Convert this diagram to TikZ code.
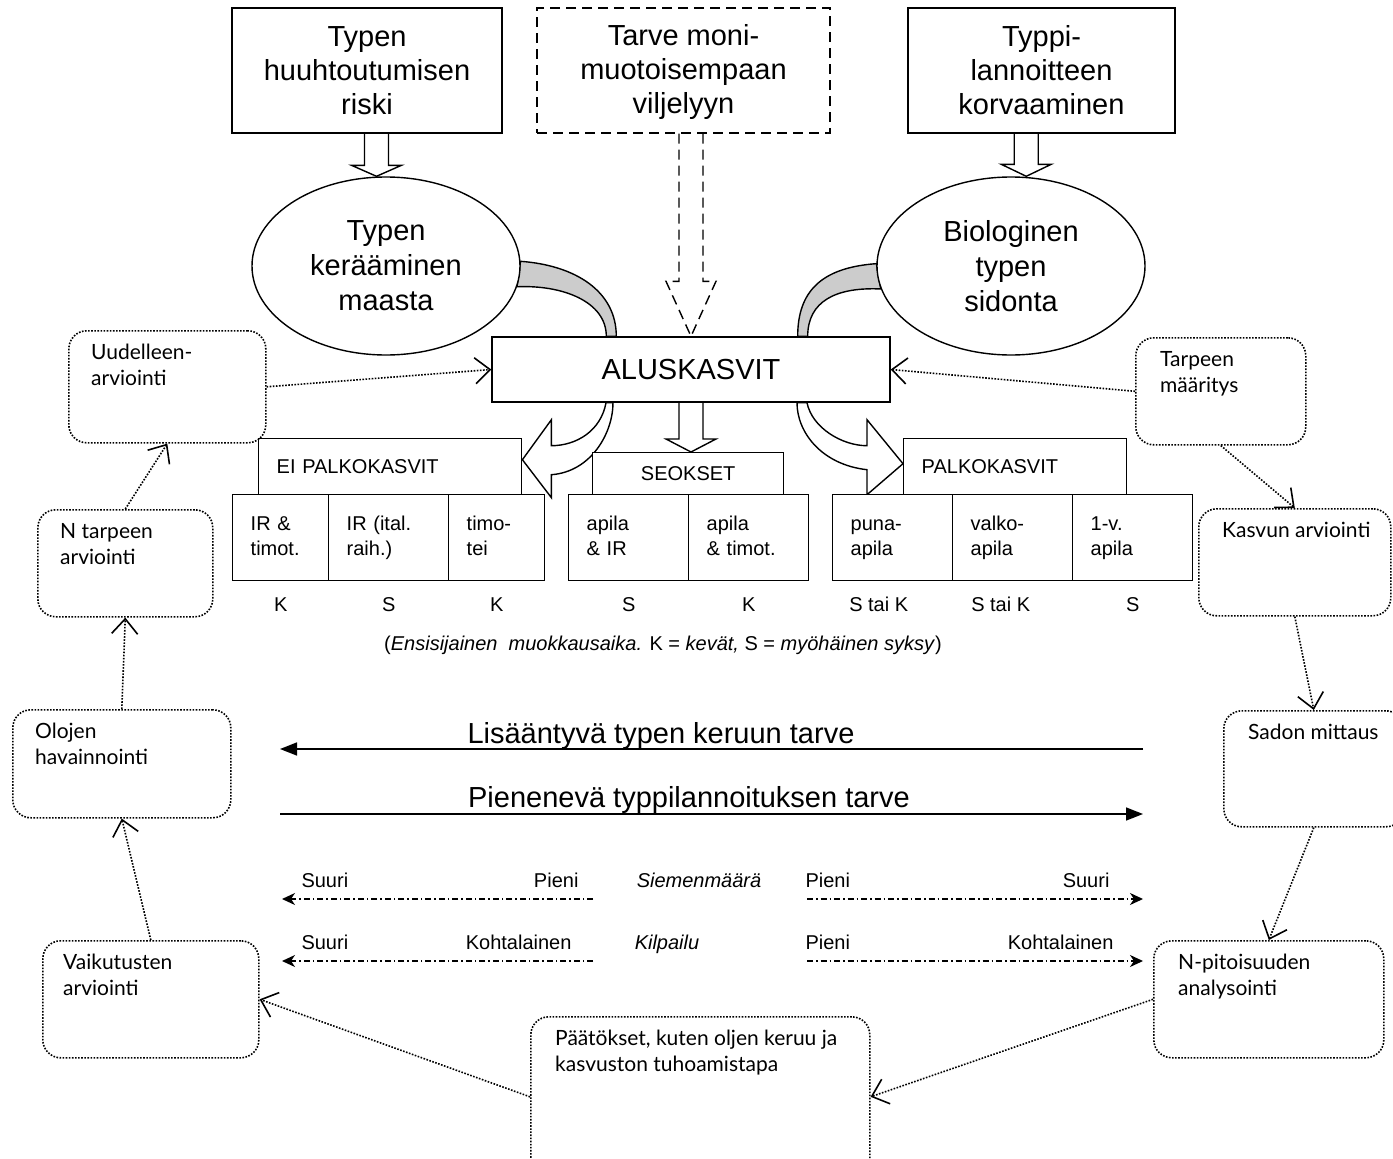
\documentclass[tikz,border=0pt]{standalone}
\usepackage{fontspec}
\setmainfont{Liberation Sans}
\newfontfamily\handfont{Lato}
\usepackage{xcolor}
\usetikzlibrary{arrows.meta, positioning, calc, shapes.geometric}
\definecolor{bandgray}{RGB}{204,204,204}
\pgfdeclarelayer{bg}
\pgfsetlayers{bg,main}
% hollow arrow pointing down: [style]{tail}{tip}{head length}
\newcommand{\fatdown}[4][]{%
  \draw[line width=1.4pt, fill=white, #1] ([xshift=-12pt]#2) -- ([shift={(-12,-#4)}]#3) -- ([shift={(-25,-#4)}]#3) -- (#3)
    -- ([shift={(25,-#4)}]#3) -- ([shift={(12,-#4)}]#3) -- ([xshift=12pt]#2);}

\begin{document}
\begin{tikzpicture}[x=1pt, y=-1pt,
  every node/.style={font=\fontsize{20}{25}\selectfont},
  bigbox/.style={draw, line width=1.4pt, fill=white, minimum height=125pt, align=center, font=\fontsize{29}{34}\selectfont},
  oval/.style={ellipse, draw, line width=1.4pt, fill=white, minimum width=268pt, minimum height=178pt, inner sep=0pt, align=center, font=\fontsize{29}{35}\selectfont},
  header/.style={draw, line width=1.4pt, fill=white, anchor=north west, inner ysep=0pt},
  cell/.style={draw, line width=1.4pt, fill=white, anchor=north west, minimum height=86pt, inner xsep=18pt, inner ysep=0pt, text width=#1, align=left},
  dotbox/.style={draw, line width=1.6pt, dash pattern=on 1.6pt off 1.5pt, rounded corners=18pt, anchor=north west, inner sep=0pt},
  hand/.style={font=\handfont\fontsize{21}{26}\selectfont, anchor=north west, inner sep=0pt, align=left},
  dotarrow/.style={line width=1.6pt, dash pattern=on 1.6pt off 1.5pt, -{Straight Barb[length=15pt, width=26pt, line width=1.6pt]}},
  bigarrow/.style={line width=1.6pt, -{Triangle[length=17pt, width=13pt]}},
  dashdot/.style={line width=1.4pt, dash pattern=on 6pt off 3pt on 1.5pt off 3pt, -{Stealth[length=13pt, width=12pt, inset=4pt]}},
  band/.style={line width=1.4pt, fill=bandgray},
  bent/.style={line width=1.4pt, fill=white}]
  \path[use as bounding box, clip] (0,0) rectangle (1393,1159);

  % top row
  \node[bigbox, minimum width=270pt] (b1) at (367,70.5) {Typen\\huuhtoutumisen\\riski};
  \node[bigbox, minimum width=293pt, dash pattern=on 10pt off 6pt] (b2) at (683.5,70.5) {\strut Tarve moni-\\muotoisempaan\\viljelyyn};
  \node[bigbox, minimum width=267pt] (b3) at (1041.5,70.5) {Typpi-\\lannoitteen\\korvaaminen};
  \node[oval] (e1) at (386,266) {Typen\\kerääminen\\maasta};
  \node[oval] (e2) at (1011,266) {Biologinen\\typen\\sidonta};
  \node[draw, line width=1.4pt, fill=white, minimum width=398pt, minimum height=65pt, font=\fontsize{29}{34}\selectfont] (alus) at (691,369.5) {ALUSKASVIT};

  % cover crop groups
  \node[cell=60pt] (c1) at (232,494) {\strut IR \&\\\strut timot.\\[-8pt]};
  \node[cell=84pt] (c2) at (328,494) {\strut IR (ital.\\\strut raih.)\\[-8pt]};
  \node[cell=60pt] (c3) at (448,494) {\strut timo-\\\strut tei\\[-8pt]};
  \node[cell=84pt] (c4) at (568,494) {\strut apila\\\strut \& IR\\[-8pt]};
  \node[cell=84pt] (c5) at (688,494) {\strut apila\\\strut \& timot.\\[-8pt]};
  \node[cell=84pt] (c6) at (832,494) {\strut puna-\\\strut apila\\[-8pt]};
  \node[cell=84pt] (c7) at (952,494) {\strut valko-\\\strut apila\\[-8pt]};
  \node[cell=84pt] (c8) at (1072,494) {\strut 1-v.\\\strut apila\\[-8pt]};
  \node[header, minimum height=56pt, inner xsep=18pt, text width=227pt, align=left] (eih) at (258,438) {EI PALKOKASVIT};
  \node[header, minimum height=42pt, minimum width=191pt] (seoh) at (592,452) {SEOKSET};
  \node[header, minimum height=56pt, inner xsep=18pt, text width=187pt, align=left] (palh) at (903,438) {PALKOKASVIT};

  % tillage time
  \node (t1) at ([yshift=-23pt]c1.south) {K};
  \node (t2) at ([yshift=-23pt]c2.south) {S};
  \node (t3) at ([yshift=-23pt]c3.south) {K};
  \node (t4) at ([yshift=-23pt]c4.south) {S};
  \node (t5) at ([yshift=-23pt]c5.south) {K};
  \node (t6) at ([shift={(-14,23)}]c6.south) {S tai K};
  \node (t7) at ([shift={(-12,23)}]c7.south) {S tai K};
  \node (t8) at ([yshift=-23pt]c8.south) {S};
  \node (cap) at (663,645) {(\textit{Ensisijainen\ \ muokkausaika.} K = \textit{kevät,} S = \textit{myöhäinen syksy})};

  % arrows behind the shapes
  \coordinate (m1) at ($(b1.south)!.5!(e1.north)$);
  \coordinate (m3) at ($(b3.south)!.5!(e2.north)$);
  \coordinate (ltip) at ([yshift=7pt]eih.east);
  \coordinate (rtip) at ([yshift=3pt]palh.west);
  \begin{pgfonlayer}{bg}
    \fatdown{m1 |- b1.south}{m1 |- e1.north}{11}
    \fatdown{m3 |- b3.south}{m3 |- e2.north}{12}
    \fatdown[dash pattern=on 10pt off 6pt]{alus.north |- b2.south}{alus.north}{55}
    \fatdown{alus.south}{alus.south |- seoh.north}{13}
    \draw[band] (e1.2) .. controls +(55,4) and +(0,-45) .. ([xshift=125pt]alus.north west)
      -- ([xshift=115pt]alus.north west) .. controls +(0,-35) and +(45,-2) .. (e1.-9) -- cycle;
    \draw[band] (e2.179) .. controls +(-55,4) and +(0,-45) .. ([xshift=-93pt]alus.north east)
      -- ([xshift=-83pt]alus.north east) .. controls +(0,-35) and +(-45,-2) .. (e2.190) -- cycle;
    \draw[bent] ([xshift=-85pt]alus.south) .. controls +(-5,28) and +(25,0) .. ([shift={(29,-14)}]ltip)
      -- ([shift={(29,-40)}]ltip) -- (ltip) -- ([shift={(29,38)}]ltip) -- ([shift={(29,15)}]ltip)
      .. controls +(40,-3) and +(0,30) .. ([xshift=-78pt]alus.south) -- cycle;
    \draw[bent] ([xshift=116pt]alus.south) .. controls +(5,25) and +(-25,0) .. ([shift={(-36,-18)}]rtip)
      -- ([shift={(-36,-44)}]rtip) -- (rtip) -- ([shift={(-36,31)}]rtip) -- ([shift={(-36,6)}]rtip)
      .. controls +(-45,-5) and +(0,30) .. ([xshift=106pt]alus.south) -- cycle;
  \end{pgfonlayer}

  % need arrows
  \coordinate (la) at (1143,749);
  \coordinate (lb) at (280,749);
  \coordinate (pa) at (280,814);
  \coordinate (pb) at (1143,814);
  \draw[bigarrow] (la) -- (lb);
  \draw[bigarrow] (pa) -- (pb);
  \node[font=\fontsize{29}{34}\selectfont] (lt) at (661,736) {Lisääntyvä typen keruun tarve};
  \node[font=\fontsize{29}{34}\selectfont] (pt) at (689,800) {Pienenevä typpilannoituksen tarve};

  % seed rate and competition
  \coordinate (s1a) at (593,899);
  \coordinate (s1b) at (282,899);
  \coordinate (s2a) at (807,899);
  \coordinate (s2b) at (1143,899);
  \coordinate (k1a) at (593,961);
  \coordinate (k1b) at (282,961);
  \coordinate (k2a) at (807,961);
  \coordinate (k2b) at (1143,961);
  \draw[dashdot] (s1a) -- (s1b);
  \draw[dashdot] (s2a) -- (s2b);
  \draw[dashdot] (k1a) -- (k1b);
  \draw[dashdot] (k2a) -- (k2b);
  \node[anchor=base west] (s1l) at (298,887) {Suuri};
  \node[anchor=base east] (s1r) at (582,887) {Pieni};
  \node[anchor=base] (sm) at (699,887) {\textit{Siemenmäärä}};
  \node[anchor=base west] (s2l) at (802,887) {Pieni};
  \node[anchor=base east] (s2r) at (1113,887) {Suuri};
  \node[anchor=base west] (k1l) at (298,949) {Suuri};
  \node[anchor=base east] (k1r) at (575,949) {Kohtalainen};
  \node[anchor=base] (kp) at (667,949) {\textit{Kilpailu}};
  \node[anchor=base west] (k2l) at (802,949) {Pieni};
  \node[anchor=base east] (k2r) at (1117,949) {Kohtalainen};

  % monitoring cycle
  \node[dotbox, minimum width=197pt, minimum height=112pt] (uud) at (68,330) {};
  \node[dotbox, minimum width=175pt, minimum height=107pt] (ntar) at (37,509) {};
  \node[dotbox, minimum width=218pt, minimum height=108pt] (olo) at (12,709) {};
  \node[dotbox, minimum width=216pt, minimum height=117pt] (vai) at (42,940) {};
  \node[dotbox, minimum width=339pt, minimum height=160pt] (paat) at (530,1016) {};
  \node[dotbox, minimum width=230pt, minimum height=117pt] (npit) at (1153,940) {};
  \node[dotbox, minimum width=180pt, minimum height=116pt] (sad) at (1223,710) {};
  \node[dotbox, minimum width=192pt, minimum height=107pt] (kas) at (1198,508) {};
  \node[dotbox, minimum width=170pt, minimum height=107pt] (tarp) at (1135,337) {};
  \node[hand] (uudt) at ([shift={(23,14)}]uud.north west) {Uudelleen-\\arviointi};
  \node[hand] (ntart) at ([shift={(23,14)}]ntar.north west) {N tarpeen\\arviointi};
  \node[hand] (olot) at ([shift={(23,14)}]olo.north west) {Olojen\\havainnointi};
  \node[hand] (vait) at ([shift={(21,14)}]vai.north west) {Vaikutusten\\arviointi};
  \node[hand] (paatt) at ([shift={(25,14)}]paat.north west) {Päätökset, kuten oljen keruu ja\\kasvuston tuhoamistapa};
  \node[hand] (npitt) at ([shift={(25,14)}]npit.north west) {N-pitoisuuden\\analysointi};
  \node[hand] (sadt) at ([shift={(25,14)}]sad.north west) {Sadon mittaus};
  \node[hand] (kast) at ([shift={(24,14)}]kas.north west) {Kasvun arviointi};
  \node[hand] (tarpt) at ([shift={(25,14)}]tarp.north west) {Tarpeen\\määritys};

  \draw[dotarrow] (uud.east) -- (alus.west);
  \draw[dotarrow] (tarp.west) -- (alus.east);
  \draw[dotarrow] (tarp.south) -- (kas.north);
  \draw[dotarrow] (kas.south) -- (sad.north);
  \draw[dotarrow] (sad.south) -- (npit.north);
  \draw[dotarrow] (npit.west) -- (paat.east);
  \draw[dotarrow] (paat.west) -- (vai.east);
  \draw[dotarrow] (vai.north) -- (olo.south);
  \draw[dotarrow] (olo.north) -- (ntar.south);
  \draw[dotarrow] (ntar.north) -- (uud.south);
\end{tikzpicture}
\end{document}
